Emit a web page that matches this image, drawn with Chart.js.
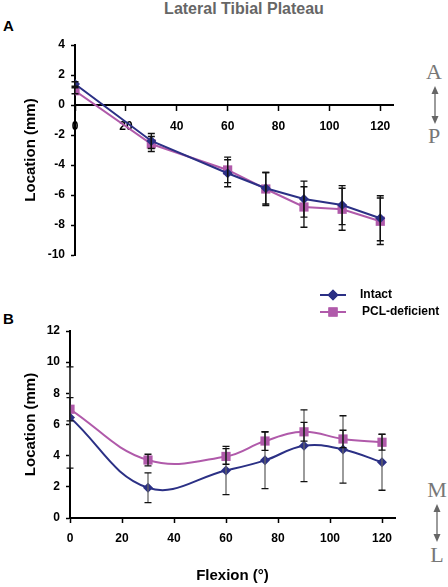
<!DOCTYPE html>
<html>
<head>
<meta charset="utf-8">
<script src="https://cdn.jsdelivr.net/npm/chart.js@4"></script>
<style>
  body { margin: 0; background: #fff; }
  #wrap { position: relative; width: 448px; height: 587px; overflow: hidden; font-family: "Liberation Sans", Arial, sans-serif; }
  .abs { position: absolute; }
  #title { left: 0; width: 488px; top: 0; text-align: center; font-weight: bold; font-size: 16px; color: #666; }
  .panel { font-weight: bold; font-size: 15px; color: #000; }
  .dir { font-family: "Liberation Serif", "DejaVu Serif", serif; font-size: 22px; color: #777; width: 30px; text-align: center; line-height: 22px; }
</style>
</head>
<body>
<div id="wrap">
  <div id="title" class="abs">Lateral Tibial Plateau</div>
  <div class="abs panel" style="left:3px; top:17px;">A</div>
  <div class="abs panel" style="left:3px; top:310px;">B</div>

  <div class="abs dir" style="left:419px; top:61px;">A</div>
  <div class="abs dir" style="left:419px; top:125px;">P</div>
  <svg class="abs" style="left:428px; top:85px;" width="14" height="40">
    <line x1="7" y1="4" x2="7" y2="36" stroke="#666" stroke-width="1.3"/>
    <polygon points="7,1 3.5,9 10.5,9" fill="#666"/>
    <polygon points="7,39 3.5,31 10.5,31" fill="#666"/>
  </svg>

  <div class="abs dir" style="left:422px; top:479px;">M</div>
  <div class="abs dir" style="left:422px; top:544px;">L</div>
  <svg class="abs" style="left:430px; top:503px;" width="14" height="40">
    <line x1="7" y1="4" x2="7" y2="36" stroke="#666" stroke-width="1.3"/>
    <polygon points="7,1 3.5,9 10.5,9" fill="#666"/>
    <polygon points="7,39 3.5,31 10.5,31" fill="#666"/>
  </svg>

  <canvas id="chartA" class="abs" style="left:0; top:0;" width="448" height="280"></canvas>
  <canvas id="chartB" class="abs" style="left:0; top:280px;" width="448" height="307"></canvas>
</div>

<script>
// flexion angles (deg)
const flexion = [0, 30, 60, 75, 90, 105, 120];

// A: anterior-posterior location (mm)
const apIntact = [1.4, -2.4, -4.55, -5.55, -6.27, -6.67, -7.55];
const apIntactErr = [0.15, 0.5, 0.9, 1.05, 1.2, 1.3, 1.5];
const apPcl = [0.95, -2.6, -4.33, -5.6, -6.8, -6.95, -7.75];
const apPclErr = [0.2, 0.5, 0.85, 1.1, 1.35, 1.4, 1.55];

// B: medial-lateral location (mm)
const mlIntact = [6.45, 1.94, 3.05, 3.7, 4.64, 4.4, 3.58];
const mlIntactErr = [3.25, 0.95, 1.55, 1.82, 2.3, 2.16, 1.8];
const mlPcl = [6.98, 3.72, 3.95, 4.94, 5.53, 5.07, 4.86];
const mlPclErr = [0.75, 0.37, 0.5, 0.6, 0.6, 0.56, 0.5];

const xTicksA = [0, 20, 40, 60, 80, 100, 120];
const seriesNames = ["Intact", "PCL-deficient"];

const navy = "#2B3085";
const magenta = "#B05AAA";
const tickFont = { family: "Liberation Sans", size: 12, weight: "bold" };
const titleFont = { family: "Liberation Sans", size: 15, weight: "bold" };

function pts(vals) {
    return flexion.map((x, i) => ({ x: x, y: vals[i] }));
}

// draws the +/- error bars using the chart's scales
const errorBars = {
    id: "errorBars",
    afterDatasetsDraw(chart) {
        const ctx = chart.ctx;
        const xs = chart.scales.x, ys = chart.scales.y;
        chart.data.datasets.forEach((ds) => {
            if (!ds.errors) return;
            ctx.save();
            ds.data.forEach((p, i) => {
                const e = ds.errors[i];
                const px = xs.getPixelForValue(p.x);
                const top = ys.getPixelForValue(p.y + e);
                const bot = ys.getPixelForValue(p.y - e);
                ctx.strokeStyle = ds.errorColor || "#111";
                ctx.lineWidth = 1.3;
                ctx.beginPath();
                ctx.moveTo(px, top); ctx.lineTo(px, bot);
                ctx.stroke();
                ctx.strokeStyle = "#111";
                ctx.beginPath();
                ctx.moveTo(px - 3.5, top); ctx.lineTo(px + 3.5, top);
                ctx.moveTo(px - 3.5, bot); ctx.lineTo(px + 3.5, bot);
                ctx.stroke();
            });
            ctx.restore();
        });
    }
};

// legend with line + marker, placed above panel B
const lineLegend = {
    id: "lineLegend",
    afterDraw(chart) {
        const ctx = chart.ctx;
        const rows = [
            { y: 15, color: navy, style: "rectRot", r: 5.5, tx: 360 },
            { y: 32, color: magenta, style: "rect", r: 6.5, tx: 362 }
        ];
        ctx.save();
        rows.forEach((row, i) => {
            ctx.strokeStyle = row.color;
            ctx.lineWidth = 2;
            ctx.beginPath();
            ctx.moveTo(320, row.y); ctx.lineTo(346, row.y);
            ctx.stroke();
            ctx.fillStyle = row.color;
            Chart.helpers.drawPoint(ctx, { pointStyle: row.style, radius: row.r, borderWidth: 0 }, 333, row.y);
            ctx.fill();
            ctx.fillStyle = "#000";
            ctx.font = "bold 12px 'Liberation Sans'";
            ctx.textBaseline = "middle";
            ctx.fillText(seriesNames[i], row.tx, row.y);
        });
        ctx.restore();
    }
};

function dataset(label, vals, errs, color, style, radius, tension, errColor) {
    return {
        label: label,
        data: pts(vals),
        errors: errs,
        errorColor: errColor,
        borderColor: color,
        backgroundColor: color,
        borderWidth: 2,
        pointStyle: style,
        pointRadius: radius,
        pointBorderWidth: 0,
        tension: tension
    };
}

const axisLine = { display: true, color: "#000", width: 2 };

new Chart(document.getElementById("chartA"), {
    type: "line",
    data: {
        datasets: [
            dataset("Intact", apIntact, apIntactErr, navy, "rectRot", 5, 0, "#111"),
            dataset("PCL-deficient", apPcl, apPclErr, magenta, "rect", 6.5, 0, "#111")
        ]
    },
    options: {
        responsive: false,
        animation: false,
        layout: { padding: { top: 45, bottom: 25, right: 55, left: 0 } },
        plugins: { legend: { display: false }, tooltip: { enabled: false } },
        scales: {
            x: {
                type: "linear",
                position: { y: 0 },
                min: 0, max: 125,
                afterBuildTicks: (s) => { s.ticks = xTicksA.map((v) => ({ value: v })); },
                grid: { drawOnChartArea: false, tickLength: 5, color: "#000", tickWidth: 1.5 },
                border: axisLine,
                ticks: { font: tickFont, color: "#000", padding: 9, maxRotation: 0 }
            },
            y: {
                min: -10, max: 4,
                afterFit: (s) => { s.width = 75; },
                grid: { drawOnChartArea: false, tickLength: 4, color: "#000", tickWidth: 1.5 },
                border: axisLine,
                ticks: { stepSize: 2, font: tickFont, color: "#000", padding: 6 },
                title: { display: true, text: "Location (mm)", font: titleFont, color: "#000", padding: { top: 22, bottom: 0 } }
            }
        }
    },
    plugins: [errorBars]
});

new Chart(document.getElementById("chartB"), {
    type: "line",
    data: {
        datasets: [
            dataset("Intact", mlIntact, mlIntactErr, navy, "rectRot", 5, 0.4, "#666"),
            dataset("PCL-deficient", mlPcl, mlPclErr, magenta, "rect", 6.5, 0.4, "#111")
        ]
    },
    options: {
        responsive: false,
        animation: false,
        layout: { padding: { top: 51, bottom: 0, right: 53, left: 0 } },
        plugins: { legend: { display: false }, tooltip: { enabled: false } },
        scales: {
            x: {
                type: "linear",
                min: 0, max: 125,
                afterBuildTicks: (s) => { s.ticks = xTicksA.map((v) => ({ value: v })); },
                afterFit: (s) => { s.height = 69; },
                grid: { drawOnChartArea: false, tickLength: 5, color: "#000", tickWidth: 1.5 },
                border: axisLine,
                ticks: { font: tickFont, color: "#000", padding: 8, maxRotation: 0 },
                title: { display: true, text: "Flexion (°)", font: titleFont, color: "#000", padding: { top: 0, bottom: 2 } }
            },
            y: {
                min: 0, max: 12,
                afterFit: (s) => { s.width = 70; },
                grid: { drawOnChartArea: false, tickLength: 4, color: "#000", tickWidth: 1.5 },
                border: axisLine,
                ticks: { stepSize: 2, font: tickFont, color: "#000", padding: 6 },
                title: { display: true, text: "Location (mm)", font: titleFont, color: "#000", padding: { top: 22, bottom: 0 } }
            }
        }
    },
    plugins: [errorBars, lineLegend]
});
</script>
</body>
</html>
